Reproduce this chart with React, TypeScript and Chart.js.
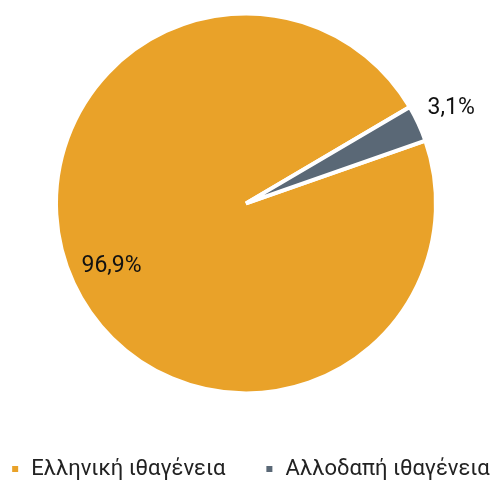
import React, { useEffect, useRef } from "react";
import { Chart, registerables } from "chart.js";

Chart.register(...registerables);

const categories: string[] = ["Ελληνική ιθαγένεια", "Αλλοδαπή ιθαγένεια"];
const values: number[] = [96.9, 3.1];
const valueLabels: string[] = ["96,9%", "3,1%"];
const colors: string[] = ["#E9A229", "#5A6876"];

const FONT = "Roboto, sans-serif";

const sliceLabels = {
  id: "sliceLabels",
  afterDatasetsDraw(chart: any) {
    const ctx = chart.ctx;
    const meta = chart.getDatasetMeta(0);
    const total = values.reduce((a, b) => a + b, 0);
    ctx.save();
    ctx.font = `23px ${FONT}`;
    ctx.fillStyle = "#111111";
    ctx.textAlign = "center";
    ctx.textBaseline = "middle";
    meta.data.forEach((arc: any, i: number) => {
      const p = arc.getProps(["x", "y", "startAngle", "endAngle", "outerRadius"], true);
      const mid = (p.startAngle + p.endAngle) / 2;
      const share = values[i] / total;
      const f = share < 0.05 ? 1.19 : 0.78;
      const x = p.x + Math.cos(mid) * p.outerRadius * f;
      const y = p.y + Math.sin(mid) * p.outerRadius * f;
      ctx.fillText(valueLabels[i], x, y);
    });
    ctx.restore();
  },
};

export default function App() {
  const ref = useRef<HTMLCanvasElement | null>(null);
  useEffect(() => {
    if (!ref.current) return;
    const chart = new Chart(ref.current, {
      type: "pie",
      data: {
        labels: categories,
        datasets: [
          {
            data: values,
            backgroundColor: colors,
            borderColor: "#ffffff",
            borderWidth: 4,
            radius: 190,
          },
        ],
      },
      options: {
        animation: false,
        responsive: true,
        maintainAspectRatio: false,
        rotation: 70.7,
        layout: { padding: { top: 0, left: -41.2, right: -36.7, bottom: -6 } },
        plugins: {
          tooltip: { enabled: false },
          legend: {
            position: "bottom",
            align: "end",
            title: {
              display: true,
              text: " ",
              font: { size: 1 },
              padding: { top: 0, bottom: 11 },
            },
            labels: {
              boxWidth: 10,
              boxHeight: 10,
              padding: 39,
              color: "#222222",
              font: { size: 22, family: FONT },
            },
          },
        },
      },
      plugins: [sliceLabels],
    });
    return () => chart.destroy();
  }, []);
  return (
    <div style={{ position: "fixed", left: 0, top: 0, width: 492, height: 484 }}>
      <canvas ref={ref} />
    </div>
  );
}
